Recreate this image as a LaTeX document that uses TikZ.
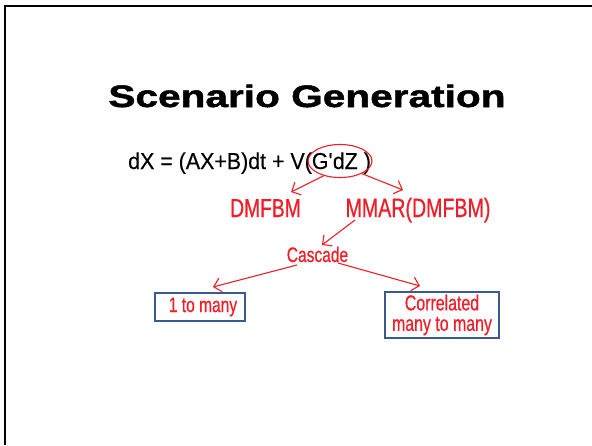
\documentclass[tikz,border=0pt]{standalone}
\usepackage{fontspec}
\setmainfont{Liberation Sans}
\newfontfamily\titlefont[FakeStretch=1.31,FakeBold=1.6]{Liberation Sans}
\newfontfamily\redfont[FakeStretch=0.74,FakeBold=0.6]{Liberation Sans}
\newfontfamily\eqfont[FakeStretch=0.93,FakeBold=0.3]{Liberation Sans}
\usetikzlibrary{arrows.meta,shapes.geometric}
\definecolor{myred}{RGB}{240,30,40}
\definecolor{boxblue}{RGB}{60,90,140}
\tikzset{
  arr/.style={draw=myred, line width=1.1pt, -{Straight Barb[length=7pt,width=14pt,line width=1.1pt]}},
  redtxt/.style={text=myred, inner sep=0pt, font=\redfont},
  bluebox/.style={draw=boxblue, line width=1.4pt, inner sep=0pt, text=myred, font=\redfont},
}
\begin{document}
\begin{tikzpicture}[x=1pt,y=-1pt]
\useasboundingbox (0,0) rectangle (592,445);
\fill[white] (0,0) rectangle (592,445);
% slide frame
\draw[line width=2.6pt, black] (5,445) -- (5,6) -- (592,6);
% title
\node[anchor=base, inner sep=0pt, font={\titlefont\bfseries\fontsize{31}{31}\selectfont}] (title) at (307,107) {Scenario Generation};
% equation
\node[anchor=base west, inner sep=0pt, font={\eqfont\fontsize{23}{23}\selectfont}] (eq) at (128,169) {dX = (AX+B)dt + V(G\textquotesingle dZ )};
% ellipse annotation
\node[ellipse, draw=myred, line width=1.1pt, minimum width=64pt, minimum height=33pt, inner sep=0pt] (ell) at (340,161) {};
% red labels
\node[redtxt, anchor=base, font={\redfont\fontsize{26}{26}\selectfont}] (dmfbm) at (265.5,217) {DMFBM};
\node[redtxt, anchor=base, font={\redfont\fontsize{26.5}{26.5}\selectfont}] (mmar) at (418,217) {MMAR(DMFBM)};
\node[redtxt, anchor=base, font={\redfont\fontsize{21}{21}\selectfont}] (cascade) at (317.5,262) {Cascade};
% boxes
\node[bluebox, minimum width=90pt, minimum height=28pt, font={\redfont\fontsize{21}{21}\selectfont}] (one) at (200,307) {\hspace{6pt}1 to many};
\node[bluebox, minimum width=114pt, minimum height=46pt, align=center, font={\redfont\fontsize{21.5}{20.5}\selectfont}] (corr) at (442,315) {Correlated\\many to many};
% arrow end points
\coordinate (t1) at (291,192);
\coordinate (t2) at (403,190);
\coordinate (s3) at (355,220);
\coordinate (t3) at (322,245);
\coordinate (s4) at (297,265);
\coordinate (t4) at (213,287);
\coordinate (s5) at (338,263);
\coordinate (t5) at (420,286);
% connectors
\draw[arr] (ell.222) -- (t1);
\draw[arr] (ell.330) -- (t2);
\draw[arr] (s3) -- (t3);
\draw[arr] (s4) -- (t4);
\draw[arr] (s5) -- (t5);
\end{tikzpicture}
\end{document}
